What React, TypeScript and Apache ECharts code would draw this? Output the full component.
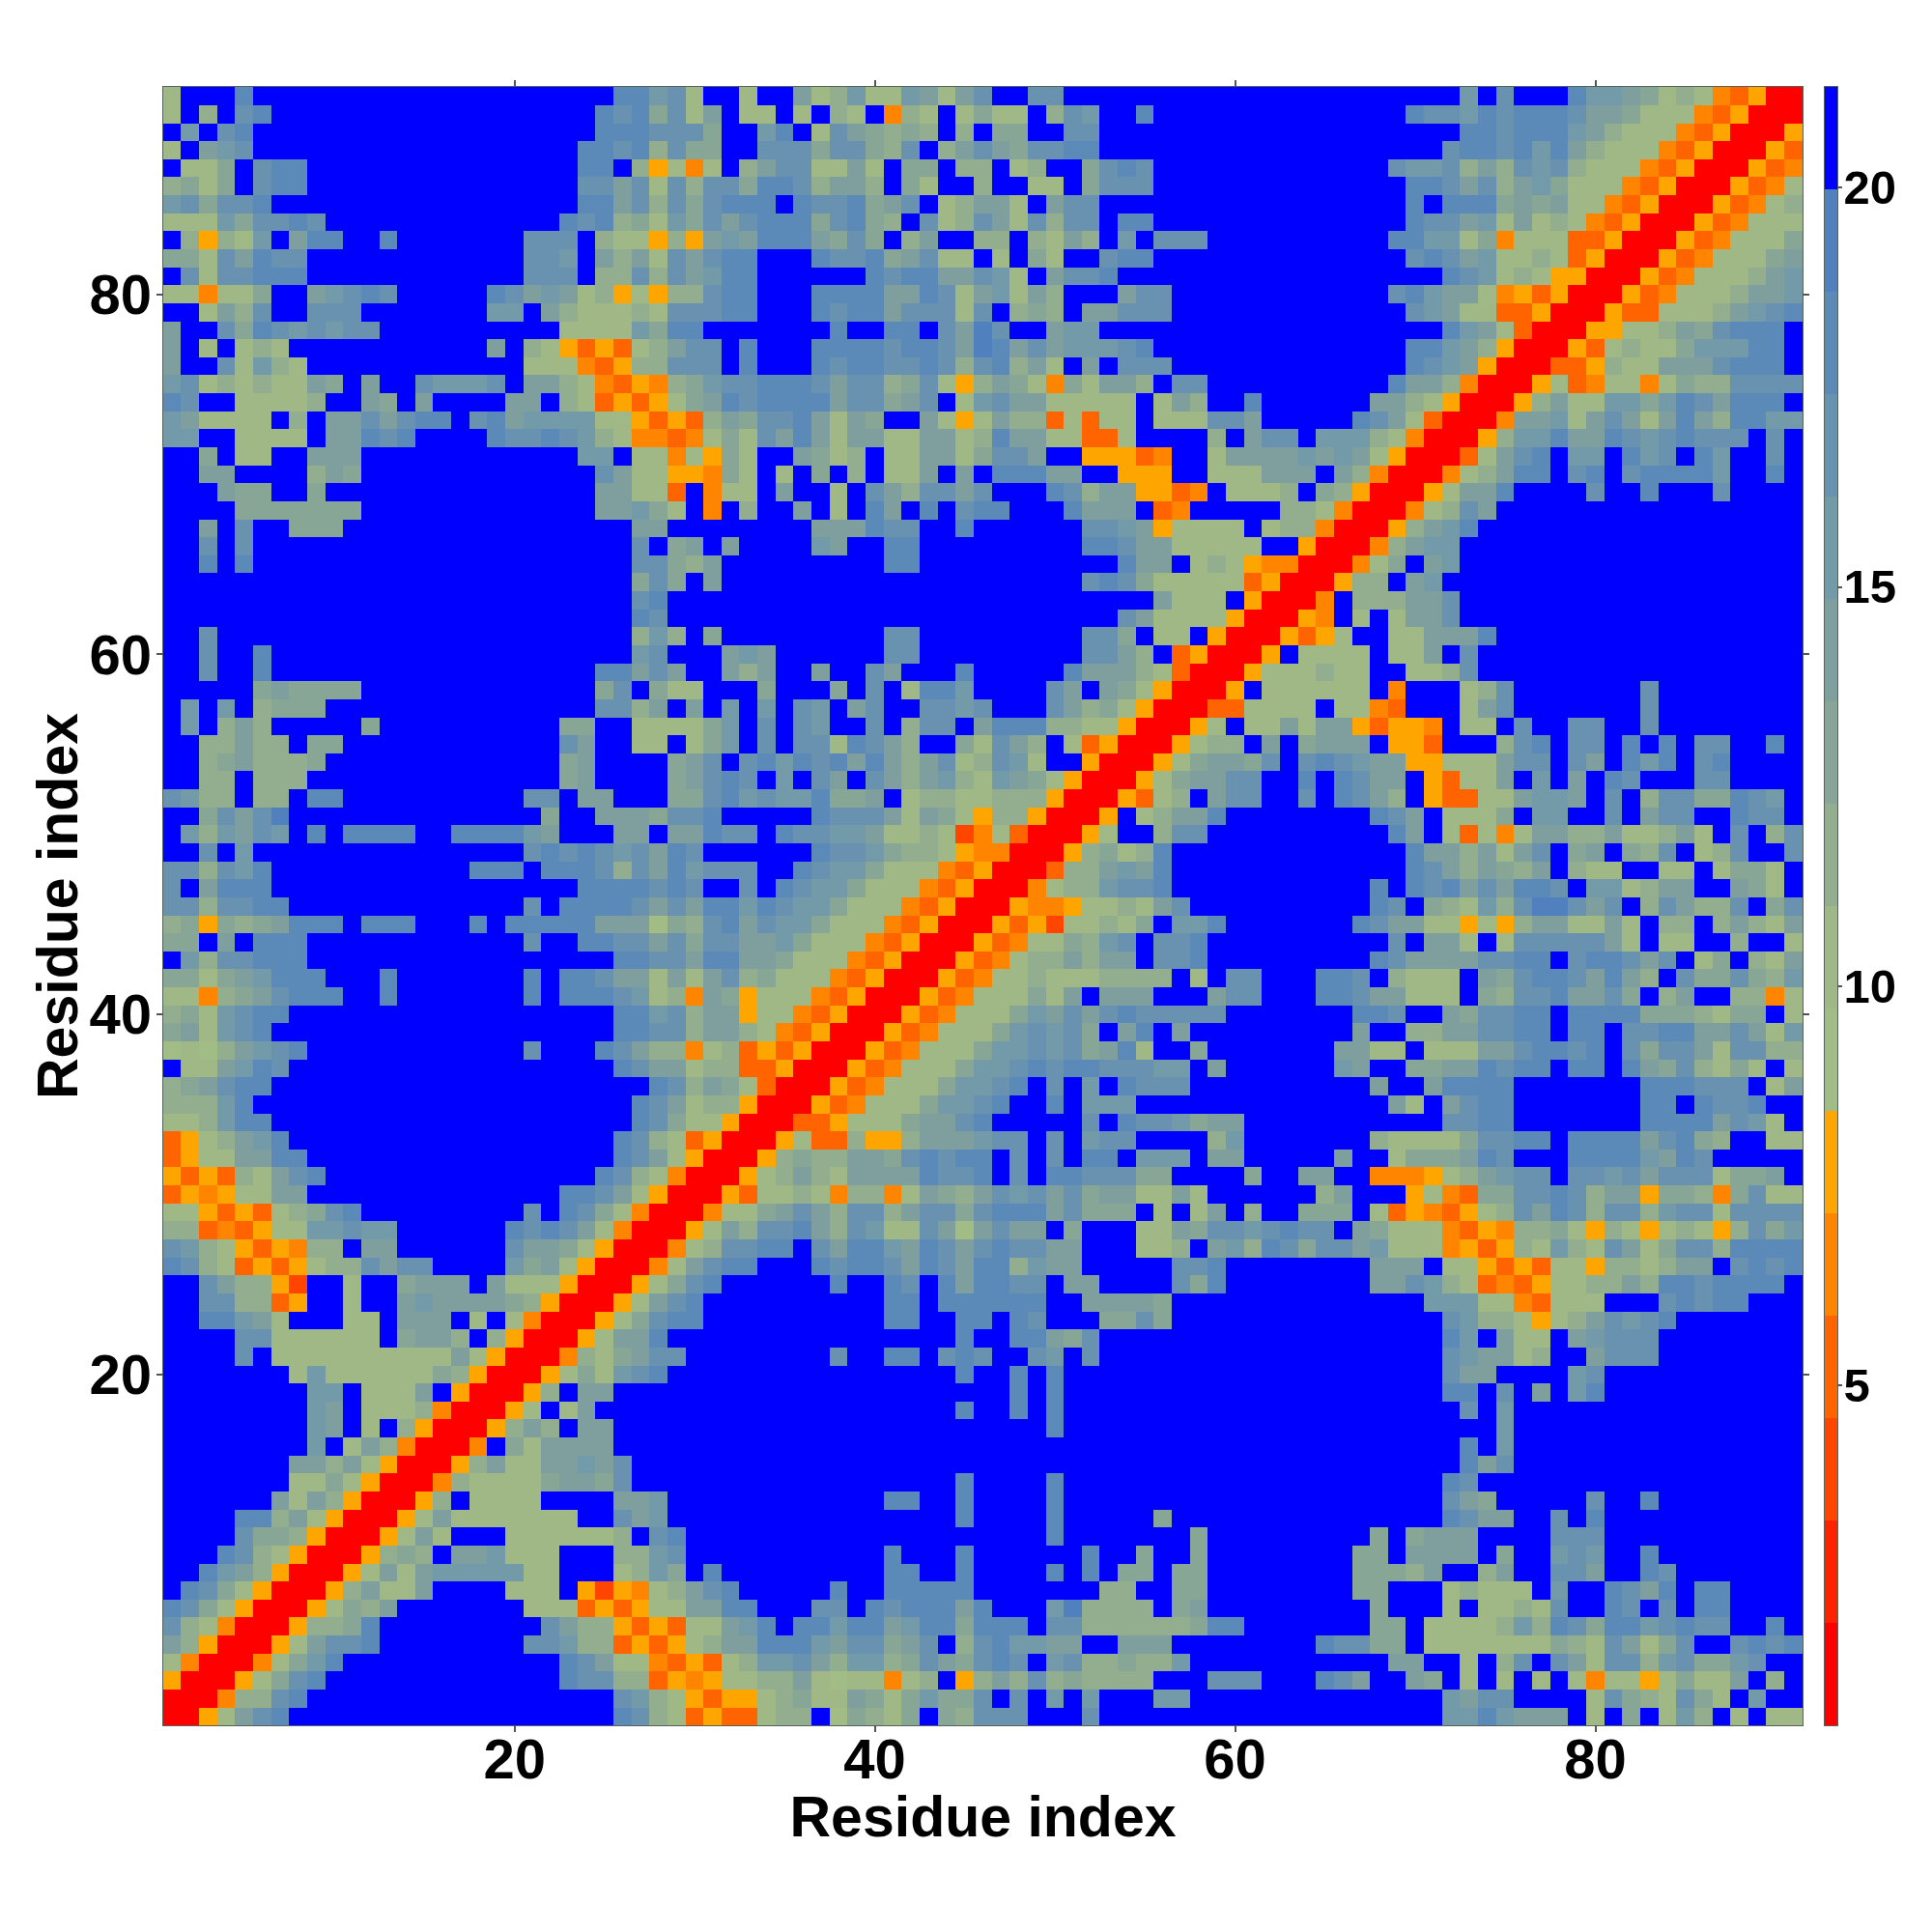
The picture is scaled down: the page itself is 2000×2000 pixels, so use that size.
import React, { useEffect, useRef } from "react";
import * as echarts from "echarts";

// Each cell holds a colour-band index (hex digit, 0 = closest, f = farthest). The map is symmetric,
// so only cells with column >= row are listed: row r starts at column r.
// Columns r..28
const lowCols = [
  "0057acdfff ffffffffff fffffdc8","00488cdff ffffffffff fffffcb8","00579cdf ffffffffff ffdcc883",
  "00479bd ffffffffff ffdca774","0057ac cdffffffff ccb88353","00588 9dffffffff fca88535",
  "0057 98afffffff 77735357","005 8a77affff7 77f52547","00 57a7abbbbb 77fff78b",
  "0 05898faab7 77fff88b","0057a7fff7 777778fc","0057a7777 777ffcab","0058f777 7ffffaab",
  "0048777 79aa9cff","0058a7 7aabacff","004f9 7aaaafff","0058 a8faafff","005 7f7affff",
  "00 58faafff","0 05797bcd","004879ac","0057aad","00579c","0057a","0057","004","00","0",
];
// Columns 29..60 for rows 1-30, then r..60 for rows 31-60
const midCols = [
  "73 533788f698 79f98cccff fcffffffff","75 35578977a9 79b99cfcfb fbfffbbfff","54 57788a7677 478f58a8c8 98888fffcc",
  "35 378bbca8bb 89ca9cdcfb c88988bfff","57 8aadddbacc 9acf8cdbba affaaaffff","37 7abdfddbdd abdd9dddfc c8888889dd",
  "7a addfffccfd cdddadfffb e8888f9aff","8a cdfffffdff dddddfffff ff88ff99ff","9f dfffffffff ddffdffffd fdf99f99ff",
  "cf ffffffffff dfffdfffff fdff9ff9ff","df ffffffffff fffffffffd fffffff9ff","ff ffffffffff ffffdffffd fffff9ffff",
  "ff ffffffffff ddffdffffd ffffffffff","ff ffffffffff ffffdffffd ffffffffff","ff ffffffffff ffffffffff ffffffffff",
  "ff ffffffffff ffffffffff ffffffffff","ff ffffffffff fffffffffd ffffffffff","ff ffffffffff ffffdffdfd ffffffffff",
  "ff ffffffffff fffffffdfd ffffffffff","ff ffffffffff ffffdffdfd ffffffffff","cf fffffffcff ddfcdcffcb fcffffffff",
  "ff ffffffffff ffffdffdda 9cffffffff","dd ffffffffff ddffddfdcf ff99c9ffff","cd ffffffffff ddfddddddf faaaa9ffff",
  "9c dffffffdff dcfdaddccf aaffffc9df","7a cddfffdcdd cadcadd8ba afffffccdf","47 8ccddfcadd badcacdcca afff778fab",
  "05 7a8ccda8cb 77ca6acaaf 9fff77a9cc","00 4779aca8cc 8acc9cddda c999f7f7af","0 0537787488 47a98acbca c9aa77a7ff",
  "00578a87aa aadccdfcfd dccc99ffff","0058988aa 9cdcddfcfc fddfbbbfaa","00573385 58aaabccfc fbccffff8b",
  "0033577 79aacdffff fcfdccb9aa","005347 779bbcdffd fbbbffffff","00534 7779bbcdfc fbfdcccfff",
  "0053 47779bbcdc ddcccbbfaf","005 347779bbcb c9ad7ff9ff","00 5347779bcb c9fadfafff",
  "0 05347779ba cacdcccccf","0053477797 afaaafffac","005347787 778888f7fc","00534788 a8aafccdff",
  "0053477 98bcfccdff","005352 77879fbbdf","00544 57787acfff","0047 88bccdffff","003 88abadffff",
  "00 58978dffff","0 057ff8ccff","005f78aadf","005378fac","00579aac","00579aa","005788","0057f","0033","005","00","0",
];
// Columns 61..91 for rows 1-60, then r..91 for rows 61-91
const rightCols = [
  "ffffffffff fbbdbaaaf7 f9f7b8f7f7 7","ffffffffff fbaccffff7 c987c97fbf f","cfffdcaffa 9f7f7f7f74 7757977af8 f",
  "ffffffffaa ff7f8cfca7 cc8bc99bcf f","ffffdcc99f 7777777987 ca79cffcdc d","fffffff99f 77778b8dc9 ddbcdccffd f",
  "fffffff9ff f7f7787cff dcfcfddfff f","ffffff99ff f78777fbff dcadfddfff f","ffffff9998 aff8affcca ffdcffffff f",
  "ffffff99fa aaaf9ffbcb ffdfffffff f","fffffff9f9 aaaffffccc ffffffffff f","ffffffffff fdcaaffcfd ffffffffff f",
  "ffffffffff fca9fffffc ffdfffffff f","ffffffffff fdcfffffff ffffffffff f","ffffffffff ffdacfffff ffffffffff f",
  "ffffffffff ffdfbfffff ffffffffff f","ffffffffff ffffbfffff ffffffffff f","ffffffffff ffcfbfffff ffffffffff f",
  "ffffffffff fddfcfafbd ffffffffff f","ffffffffff fcaaffffbc ffffffffff f","ffffffffff fcbaa78ffa cccfffffff f",
  "ffffffffff fdbfa77fab cccfffffff f","ffffffffff fcb887578a cbcdffffff f","ffffffffff bbb7743777 fffcdcddff f",
  "fffffffaac b873435778 8a8ddcdddd f","fffffffaaa f775353775 8878aafcdc d","8dc9ccab77 7453587b87 ca79cc8ddd d",
  "bcdccfa977 7435488975 87578758c9 b","8ff999f735 43578cadc8 cc8bcc7ccc c","ffff8afff5 74399ccdc8 aa599849c7 7",
  "9ffaaff444 578abccfcc bcaccc799a f","fffffaff79 99adcfffdd ddbadcffff f","fffffff877 779ccddfdd ddacd98ff7 7",
  "ffffffffff fccddfffff ffddddacb7 f","ffffffffa7 facddfffff ffddfdccdf f","fffffffaff addddfffff ffdddcccf7 a",
  "fffffbaff9 9aadcddfdd fda9c8797f 7","fffffaa77f 777aacddcd fc9cca7cc8 8","ffffffaff8 8aaccddfdd fccddaaca7 b",
  "ffffffddcf fa9ccddfdd dd9998799f 7","cfffddcaa7 77f98ccdaa c9f8aff884 7","cfffddcf87 77fa9cddca da8fc99c98 b",
  "fffffffdca aaaccddfcd dcacf79f87 a","ffffffffcf aa7f7ccccc a7f77ff8ff 7","ffffffdcaa 775758aa77 a7f88f8a87 a",
  "fffffffdcf 987b8ceeca cf8ca88cf9 c","fffffffdfd cdacaddcfb b78aaffa97 f","fffffffffd ca8a98af87 7ff77f7997 f",
  "fffffffffd aa8a7acf9a f98cf78cff c","ffffffffda f73747aa88 a778a7fcf8 c","fffffffdca f7779fbbff cfaccffdcc f",
  "cffcfdca8f 53377abbaf cf8cc99dcb f","cffdfdcaaf 5377afbfaf dcfffccfff f","9cfcdcbaa5 5777accfca fdbdfcdfff f",
  "faf9aaaf55 3fff8cdfcc fdfdfccffd f","77a7aa5355 4f77fcffcc ffcfffffff f","7777f7743f ff7acfffff ffcfffffff f",
  "f777777f4f ff78cfffff ffcfffffff f","5777877ff7 78cfffffff ffffffffff f","05f7777f77 afcfffffff ffffffffff f",
  "005357ff77 aaadffffff ffffffffff f","0054f7f7a acffffffff ffffffffff f","004f888a acffffffff ffffffffff f",
  "00588fa bfffffffff ffffffffff f","00479f abffffffff ffffffffff f","0048a bbffffffff ffffffffff f",
  "0058 abdfffffff ffffffffff f","004 78caffffff ffffffffff f","00 57aadffffc ffdfffcfff f",
  "0 0478addfcd fcddddbffd f","0037acdfbb fdbcfdbffc f","0058bbdaa dcbcdcccfc f","004aab7a ca7ada8ddb b",
  "0058a77 bb9bdcaddd f","005734 7747988ccc c","00335 877aaacddd f","0053 78779bbbdd f","005 5778a9cddd f",
  "00 5337778abc d","0 05347778aa b","005347778a b","005347779 a","00534777 9","0053477 7","005347 8",
  "00534 7","0053 4","005 3","00 5","0 0","0",
];

const residues = Array.from({ length: 91 }, (_, i) => String(i + 1));
const bandEdges = [0.74, 2.02, 3.31, 4.59, 5.87, 7.15, 8.44, 9.72, 11.0, 12.28, 13.57, 14.85, 16.13, 17.41, 18.7, 19.98, 21.26];
const bandColors = ["#FF0000", "#FF2200", "#FF4500", "#FF6400", "#FF8500", "#FFA500", "#A2BC85", "#9FB886", "#92AE8E", "#88A696", "#7E9F9E", "#729AA8", "#6892B0", "#5B89B8", "#5080BE", "#0000FF"];
const colorbarTicks = [5, 10, 15, 20];

const font = "'Liberation Sans', Arial, sans-serif";
const every20 = (i: number) => (i + 1) % 20 === 0;

function buildCells() {
  const grid: number[][] = residues.map(() => residues.map(() => 15));
  for (let r = 0; r < 91; r++) {
    const s = ((lowCols[r] || "") + (midCols[r] || "") + (rightCols[r] || "")).replace(/\s/g, "");
    for (let k = 0; k < s.length && r + k < 91; k++) {
      const v = parseInt(s[k], 16);
      grid[r][r + k] = v;
      grid[r + k][r] = v;
    }
  }
  const out: number[][] = [];
  for (let r = 0; r < 91; r++)
    for (let c = 0; c < 91; c++) {
      const b = grid[r][c];
      out.push([c, r, (bandEdges[b] + bandEdges[b + 1]) / 2]);
    }
  return out;
}

export default function App() {
  const ref = useRef<HTMLDivElement>(null);
  useEffect(() => {
    const chart = echarts.init(ref.current!, undefined, { renderer: "svg", width: 2000, height: 2000 });
    const line = { show: true, onZero: false, lineStyle: { color: "#56635a", width: 2 } };
    const tick = { show: true, alignWithLabel: true, interval: every20, length: 7, lineStyle: { color: "#555", width: 1.5 } };
    const mainLabel = { show: true, interval: every20, fontFamily: font, fontWeight: "bold" as const, fontSize: 58, lineHeight: 46, color: "#000" };
    const nameStyle = { fontFamily: font, fontWeight: "bold" as const, fontSize: 59, lineHeight: 50, color: "#000" };
    chart.setOption({
      animation: false,
      backgroundColor: "#fff",
      grid: [
        { left: 169, top: 90, width: 1697, height: 1696 },
        { left: 1888.5, top: 90, width: 13, height: 1696 },
      ],
      xAxis: [
        { type: "category", gridIndex: 0, position: "bottom", data: residues, axisLine: line, axisTick: tick, splitLine: { show: false },
          axisLabel: { ...mainLabel, margin: 11 }, name: "Residue index", nameLocation: "middle", nameGap: 70, nameMoveOverlap: false, nameTextStyle: nameStyle },
        { type: "category", gridIndex: 0, position: "top", data: residues, axisLine: line, axisTick: tick, axisLabel: { show: false }, splitLine: { show: false } },
        { type: "category", gridIndex: 1, position: "bottom", data: ["bar"], axisLine: line, axisTick: { show: false }, axisLabel: { show: false } },
        { type: "category", gridIndex: 1, position: "top", data: ["bar"], axisLine: line, axisTick: { show: false }, axisLabel: { show: false } },
      ],
      yAxis: [
        { type: "category", gridIndex: 0, position: "left", data: residues, axisLine: line, axisTick: tick, splitLine: { show: false },
          axisLabel: { ...mainLabel, margin: 12 }, name: "Residue index", nameLocation: "middle", nameGap: 84, nameMoveOverlap: false, nameRotate: 90, nameTextStyle: nameStyle },
        { type: "category", gridIndex: 0, position: "right", data: residues, axisLine: line, axisTick: tick, axisLabel: { show: false }, splitLine: { show: false } },
        { type: "value", gridIndex: 1, position: "left", min: bandEdges[0], max: bandEdges[16], axisLine: line, axisTick: { show: false }, axisLabel: { show: false }, splitLine: { show: false } },
        { type: "value", gridIndex: 1, position: "right", min: bandEdges[0], max: bandEdges[16], axisLine: line, splitLine: { show: false },
          axisTick: { show: true, length: 5, customValues: colorbarTicks, lineStyle: { color: "#555", width: 1.5 } },
          axisLabel: { show: true, customValues: colorbarTicks, margin: 7, fontFamily: font, fontWeight: "bold", fontSize: 49, color: "#000" } },
      ],
      visualMap: {
        show: false,
        type: "piecewise",
        seriesIndex: 0,
        dimension: 2,
        pieces: bandColors.map((color, i) => ({ min: bandEdges[i], max: bandEdges[i + 1], color })),
      },
      series: [
        { type: "heatmap", xAxisIndex: 0, yAxisIndex: 0, data: buildCells(), itemStyle: { borderWidth: 0 }, emphasis: { disabled: true }, progressive: 0 },
        ...bandColors.map((color, i) => ({
          type: "bar",
          xAxisIndex: 2,
          yAxisIndex: 3,
          stack: "colorbar",
          barWidth: "100%",
          data: [i === 0 ? bandEdges[1] : bandEdges[i + 1] - bandEdges[i]],
          itemStyle: { color },
        })),
      ],
    });
    return () => chart.dispose();
  }, []);
  return (
    <>
      <style>{"svg path { shape-rendering: crispEdges; }"}</style>
      <div ref={ref} style={{ position: "absolute", left: 0, top: 0, width: 2000, height: 2000 }} />
    </>
  );
}
